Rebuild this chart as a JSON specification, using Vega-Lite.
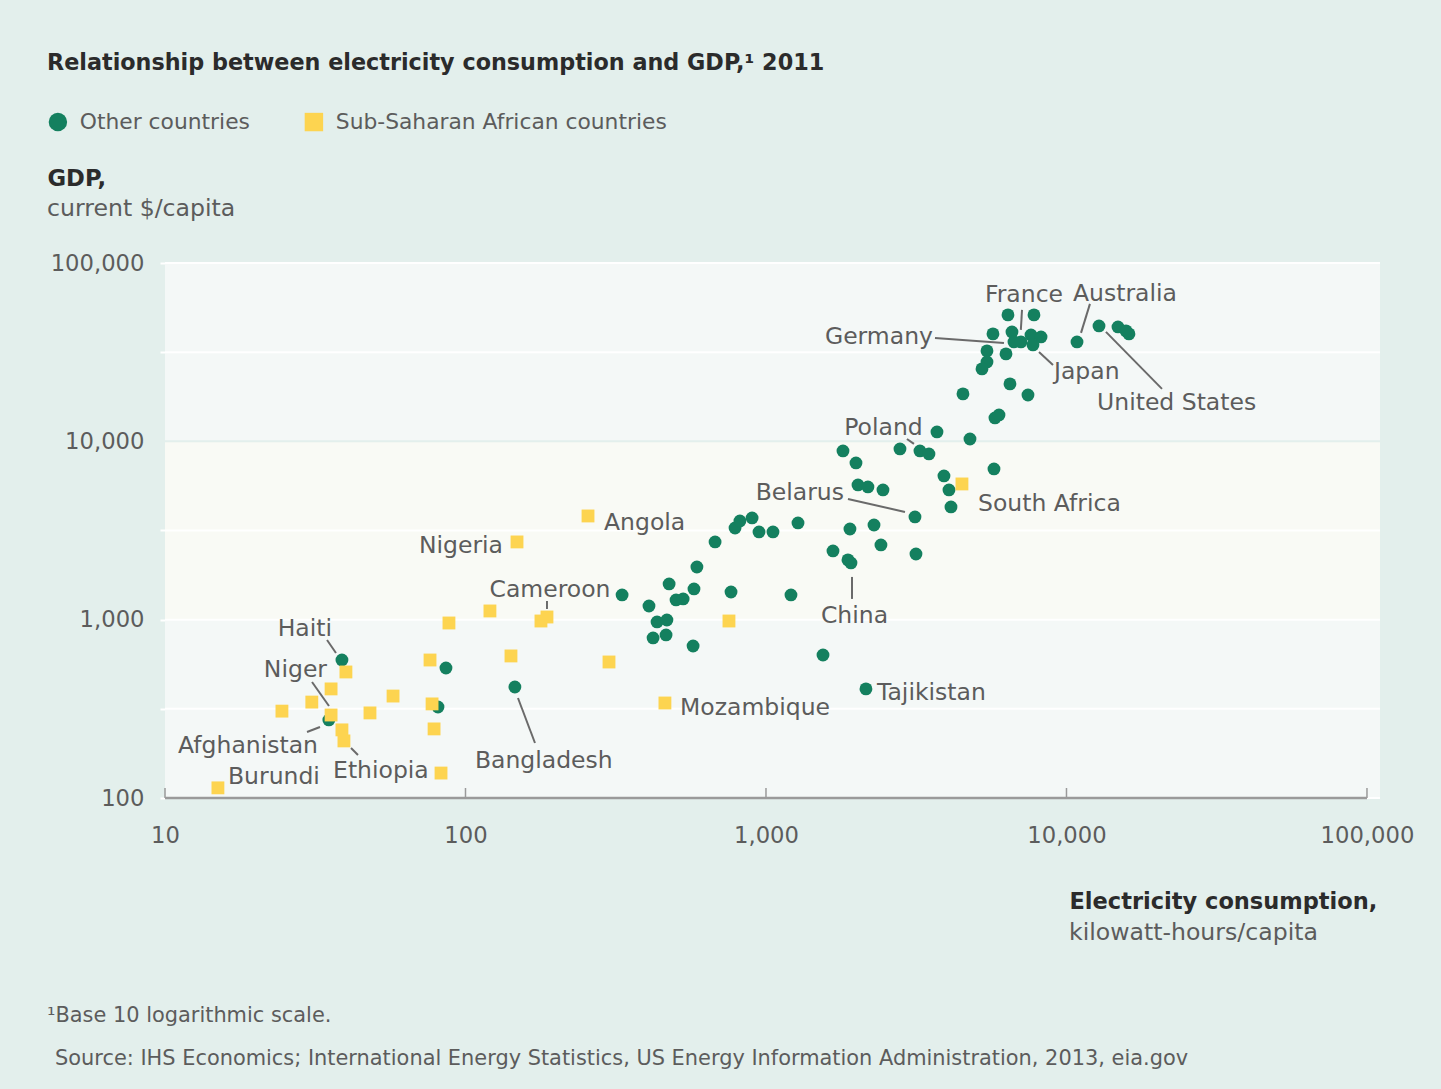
{
  "$schema": "https://vega.github.io/schema/vega-lite/v6.json",
  "width": 1215,
  "height": 535,
  "autosize": {"type": "none"},
  "padding": {"left": 165, "top": 263, "right": 61, "bottom": 291},
  "background": "#e3efec",
  "config": {"view": {"stroke": null}, "font": "DejaVu Sans"},
  "title": {
    "text": "Relationship between electricity consumption and GDP,¹ 2011",
    "anchor": "start",
    "font": "DejaVu Sans",
    "fontSize": 22.3,
    "fontWeight": "bold",
    "color": "#2b2b2b",
    "baseline": "alphabetic",
    "offset": 19
  },
  "datasets": {
    "bands": [
      {"lo": 100, "hi": 1000},
      {"lo": 1000, "hi": 10000},
      {"lo": 10000, "hi": 100000}
    ],
    "grid": [
      {"v": 100}, {"v": 316.23}, {"v": 1000}, {"v": 3162.3}, {"v": 10000}, {"v": 31623}, {"v": 100000}
    ],
    "xticks": [{"v": 10}, {"v": 100}, {"v": 1000}, {"v": 10000}, {"v": 100000}],
    "points": [
      {"x": 38.8, "y": 594, "group": "Other countries"},
      {"x": 35.1, "y": 274, "group": "Other countries"},
      {"x": 86.1, "y": 536, "group": "Other countries"},
      {"x": 81.0, "y": 324, "group": "Other countries"},
      {"x": 146, "y": 419, "group": "Other countries"},
      {"x": 332, "y": 1376, "group": "Other countries"},
      {"x": 408, "y": 1193, "group": "Other countries"},
      {"x": 476, "y": 1586, "group": "Other countries"},
      {"x": 434, "y": 971, "group": "Other countries"},
      {"x": 468, "y": 996, "group": "Other countries"},
      {"x": 421, "y": 790, "group": "Other countries"},
      {"x": 465, "y": 821, "group": "Other countries"},
      {"x": 502, "y": 1290, "group": "Other countries"},
      {"x": 530, "y": 1307, "group": "Other countries"},
      {"x": 576, "y": 1487, "group": "Other countries"},
      {"x": 589, "y": 1975, "group": "Other countries"},
      {"x": 572, "y": 712, "group": "Other countries"},
      {"x": 677, "y": 2728, "group": "Other countries"},
      {"x": 765, "y": 1430, "group": "Other countries"},
      {"x": 789, "y": 3268, "group": "Other countries"},
      {"x": 819, "y": 3577, "group": "Other countries"},
      {"x": 899, "y": 3719, "group": "Other countries"},
      {"x": 948, "y": 3104, "group": "Other countries"},
      {"x": 1055, "y": 3104, "group": "Other countries"},
      {"x": 1278, "y": 3486, "group": "Other countries"},
      {"x": 1211, "y": 1376, "group": "Other countries"},
      {"x": 1548, "y": 634, "group": "Other countries"},
      {"x": 2151, "y": 409, "group": "Other countries"},
      {"x": 1804, "y": 8835, "group": "Other countries"},
      {"x": 1993, "y": 7566, "group": "Other countries"},
      {"x": 2024, "y": 5694, "group": "Other countries"},
      {"x": 2184, "y": 5550, "group": "Other countries"},
      {"x": 2451, "y": 5340, "group": "Other countries"},
      {"x": 3132, "y": 3767, "group": "Other countries"},
      {"x": 1903, "y": 3226, "group": "Other countries"},
      {"x": 2288, "y": 3397, "group": "Other countries"},
      {"x": 1671, "y": 2429, "group": "Other countries"},
      {"x": 1918, "y": 2080, "group": "Other countries"},
      {"x": 1874, "y": 2163, "group": "Other countries"},
      {"x": 2413, "y": 2624, "group": "Other countries"},
      {"x": 3156, "y": 2336, "group": "Other countries"},
      {"x": 2792, "y": 9066, "group": "Other countries"},
      {"x": 3254, "y": 8835, "group": "Other countries"},
      {"x": 3486, "y": 8499, "group": "Other countries"},
      {"x": 3707, "y": 11290, "group": "Other countries"},
      {"x": 4774, "y": 10310, "group": "Other countries"},
      {"x": 3911, "y": 6397, "group": "Other countries"},
      {"x": 4064, "y": 5340, "group": "Other countries"},
      {"x": 4127, "y": 4287, "group": "Other countries"},
      {"x": 5738, "y": 7003, "group": "Other countries"},
      {"x": 5781, "y": 13530, "group": "Other countries"},
      {"x": 5962, "y": 14060, "group": "Other countries"},
      {"x": 4524, "y": 18450, "group": "Other countries"},
      {"x": 6486, "y": 20990, "group": "Other countries"},
      {"x": 7445, "y": 18200, "group": "Other countries"},
      {"x": 6387, "y": 51160, "group": "Other countries"},
      {"x": 7795, "y": 51160, "group": "Other countries"},
      {"x": 5693, "y": 40030, "group": "Other countries"},
      {"x": 6586, "y": 41070, "group": "Other countries"},
      {"x": 6688, "y": 36090, "group": "Other countries"},
      {"x": 7056, "y": 36090, "group": "Other countries"},
      {"x": 7618, "y": 39510, "group": "Other countries"},
      {"x": 8228, "y": 38500, "group": "Other countries"},
      {"x": 7736, "y": 34720, "group": "Other countries"},
      {"x": 5438, "y": 32140, "group": "Other countries"},
      {"x": 6291, "y": 30920, "group": "Other countries"},
      {"x": 5438, "y": 27880, "group": "Other countries"},
      {"x": 5234, "y": 25480, "group": "Other countries"},
      {"x": 10840, "y": 36090, "group": "Other countries"},
      {"x": 12830, "y": 44380, "group": "Other countries"},
      {"x": 14840, "y": 43810, "group": "Other countries"},
      {"x": 16140, "y": 40030, "group": "Other countries"},
      {"x": 15780, "y": 41610, "group": "Other countries"},
      {"x": 15.0, "y": 114, "group": "Sub-Saharan African countries"},
      {"x": 24.5, "y": 307, "group": "Sub-Saharan African countries"},
      {"x": 30.8, "y": 345, "group": "Sub-Saharan African countries"},
      {"x": 35.7, "y": 409, "group": "Sub-Saharan African countries"},
      {"x": 40.0, "y": 509, "group": "Sub-Saharan African countries"},
      {"x": 35.7, "y": 292, "group": "Sub-Saharan African countries"},
      {"x": 38.8, "y": 241, "group": "Sub-Saharan African countries"},
      {"x": 39.4, "y": 209, "group": "Sub-Saharan African countries"},
      {"x": 48.1, "y": 300, "group": "Sub-Saharan African countries"},
      {"x": 57.4, "y": 373, "group": "Sub-Saharan African countries"},
      {"x": 76.2, "y": 594, "group": "Sub-Saharan African countries"},
      {"x": 77.4, "y": 337, "group": "Sub-Saharan African countries"},
      {"x": 78.6, "y": 244, "group": "Sub-Saharan African countries"},
      {"x": 82.9, "y": 138, "group": "Sub-Saharan African countries"},
      {"x": 88.1, "y": 958, "group": "Sub-Saharan African countries"},
      {"x": 120.6, "y": 1119, "group": "Sub-Saharan African countries"},
      {"x": 148.4, "y": 2728, "group": "Sub-Saharan African countries"},
      {"x": 178.3, "y": 983, "group": "Sub-Saharan African countries"},
      {"x": 186.7, "y": 1035, "group": "Sub-Saharan African countries"},
      {"x": 141.7, "y": 626, "group": "Sub-Saharan African countries"},
      {"x": 255.7, "y": 3815, "group": "Sub-Saharan African countries"},
      {"x": 300.3, "y": 579, "group": "Sub-Saharan African countries"},
      {"x": 461, "y": 341, "group": "Sub-Saharan African countries"},
      {"x": 753, "y": 983, "group": "Sub-Saharan African countries"},
      {"x": 4489, "y": 5768, "group": "Sub-Saharan African countries"}
    ],
    "labelsLeft": [
      {"name": "Australia", "x": 10510, "y": 61310},
      {"name": "Japan", "x": 9087, "y": 22390},
      {"name": "United States", "x": 12640, "y": 15000},
      {"name": "South Africa", "x": 5076, "y": 4070},
      {"name": "Tajikistan", "x": 2341, "y": 354.3},
      {"name": "Mozambique", "x": 517.4, "y": 292.1},
      {"name": "Bangladesh", "x": 107.5, "y": 147.3},
      {"name": "Angola", "x": 289.0, "y": 3185},
      {"name": "Ethiopia", "x": 36.24, "y": 129.5},
      {"name": "Burundi", "x": 16.2, "y": 119.8}
    ],
    "labelsRight": [
      {"name": "Germany", "x": 3595, "y": 35180},
      {"name": "Nigeria", "x": 133.3, "y": 2366},
      {"name": "Afghanistan", "x": 32.3, "y": 178.8},
      {"name": "Niger", "x": 34.61, "y": 477.1},
      {"name": "Haiti", "x": 35.95, "y": 810.3},
      {"name": "Belarus", "x": 1818, "y": 4691}
    ],
    "labelsCenter": [
      {"name": "France", "x": 7220, "y": 60520},
      {"name": "Poland", "x": 2460, "y": 10860},
      {"name": "China", "x": 1970, "y": 958.3},
      {"name": "Cameroon", "x": 191.1, "y": 1341}
    ],
    "leaders": [
      {"name": "France", "x": 7112, "y": 54580, "x2": 7050, "y2": 42150},
      {"name": "Australia", "x": 11970, "y": 58970, "x2": 11180, "y2": 40550},
      {"name": "Germany", "x": 3651, "y": 38020, "x2": 6194, "y2": 35630},
      {"name": "Japan", "x": 8100, "y": 31720, "x2": 9019, "y2": 26830},
      {"name": "United States", "x": 13530, "y": 41070, "x2": 20790, "y2": 19680},
      {"name": "Poland", "x": 2945, "y": 10310, "x2": 3108, "y2": 9670},
      {"name": "Belarus", "x": 1874, "y": 4753, "x2": 2901, "y2": 4018},
      {"name": "China", "x": 1933, "y": 1736, "x2": 1933, "y2": 1307},
      {"name": "Cameroon", "x": 186.7, "y": 1273, "x2": 186.7, "y2": 1148},
      {"name": "Bangladesh", "x": 149.5, "y": 363.8, "x2": 170.3, "y2": 203.4},
      {"name": "Haiti", "x": 34.61, "y": 769.5, "x2": 37.07, "y2": 650.6},
      {"name": "Niger", "x": 30.85, "y": 447.3, "x2": 35.13, "y2": 328.1},
      {"name": "Afghanistan", "x": 29.69, "y": 234.6, "x2": 32.79, "y2": 250.2},
      {"name": "Ethiopia", "x": 41.59, "y": 190.8, "x2": 43.88, "y2": 174.3}
    ],
    "axisNotes": [
      {"text": "current $/capita", "x": 4.05, "y": 183800},
      {"text": "kilowatt-hours/capita", "x": 10193, "y": 15.98}
    ],
    "footnotes": [
      {"text": "¹Base 10 logarithmic scale.", "x": 4.05, "y": 5.54},
      {"text": "Source: IHS Economics; International Energy Statistics, US Energy Information Administration, 2013, eia.gov", "x": 4.305, "y": 3.18}
    ]
  },
  "layer": [
    {
      "data": {"name": "bands"},
      "mark": {"type": "rect"},
      "encoding": {
        "y": {"field": "lo", "type": "quantitative", "scale": {"type": "log", "domain": [100, 100000], "nice": false}},
        "y2": {"field": "hi"},
        "color": {"condition": {"test": "datum.lo == 1000", "value": "#f9faf5"}, "value": "#f4f8f7"}
      }
    },
    {
      "data": {"name": "grid"},
      "mark": {"type": "rule", "strokeWidth": 2},
      "encoding": {
        "y": {
          "field": "v", "type": "quantitative",
          "scale": {"type": "log", "domain": [100, 100000], "nice": false},
          "axis": {
            "values": [100, 316.23, 1000, 3162.3, 10000, 31623, 100000],
            "grid": false, "domain": false, "ticks": true, "tickSize": 5, "tickWidth": 2,
            "tickColor": {"condition": {"test": "datum.value == 10000", "value": "transparent"}, "value": "#ffffff"},
            "labelExpr": "(datum.value == 100 || datum.value == 1000 || datum.value == 10000 || datum.value == 100000) ? format(datum.value, ',') : ''",
            "labelOverlap": false,
            "labelFont": "DejaVu Sans", "labelFontSize": 22.7, "labelColor": "#5c5c5c", "labelPadding": 16,
            "title": "GDP,", "titleFont": "DejaVu Sans", "titleFontSize": 22.7, "titleFontWeight": "bold", "titleColor": "#2b2b2b",
            "titleAngle": 0, "titleAlign": "left", "titleBaseline": "alphabetic", "titleX": -118, "titleY": -78
          }
        },
        "color": {"condition": {"test": "datum.v == 10000", "value": "#e3efec"}, "value": "#ffffff"}
      }
    },
    {
      "data": {"values": [{}]},
      "mark": {"type": "rule", "color": "#9a9a9a", "strokeWidth": 2.5},
      "encoding": {
        "x": {"datum": 10, "type": "quantitative", "scale": {"type": "log", "domain": [10, 110500], "nice": false}},
        "x2": {"datum": 100000},
        "y": {"datum": 100, "type": "quantitative", "scale": {"type": "log", "domain": [100, 100000], "nice": false}}
      }
    },
    {
      "data": {"name": "xticks"},
      "mark": {"type": "tick", "orient": "vertical", "size": 10, "thickness": 1.5, "yOffset": -5, "color": "#9a9a9a", "opacity": 1},
      "encoding": {
        "x": {
          "field": "v", "type": "quantitative",
          "scale": {"type": "log", "domain": [10, 110500], "nice": false},
          "axis": {
            "values": [10, 100, 1000, 10000, 100000],
            "grid": false, "domain": false, "ticks": false,
            "labelExpr": "format(datum.value, ',')",
            "labelOverlap": false, "labelFlush": false,
            "labelFont": "DejaVu Sans", "labelFontSize": 22.7, "labelColor": "#5c5c5c", "labelPadding": 26,
            "title": "Electricity consumption,", "titleFont": "DejaVu Sans", "titleFontSize": 22.5, "titleFontWeight": "bold", "titleColor": "#2b2b2b",
            "titleAlign": "left", "titleBaseline": "alphabetic", "titleX": 904, "titleY": 110
          }
        },
        "y": {"datum": 100, "type": "quantitative", "scale": {"type": "log", "domain": [100, 100000], "nice": false}}
      }
    },
    {
      "data": {"name": "leaders"},
      "mark": {"type": "rule", "color": "#6a6a6a", "strokeWidth": 2},
      "encoding": {
        "x": {"field": "x", "type": "quantitative", "scale": {"type": "log", "domain": [10, 110500], "nice": false}},
        "x2": {"field": "x2"},
        "y": {"field": "y", "type": "quantitative", "scale": {"type": "log", "domain": [100, 100000], "nice": false}},
        "y2": {"field": "y2"}
      }
    },
    {
      "data": {"name": "points"},
      "mark": {"type": "point", "filled": true, "size": 165, "opacity": 1},
      "encoding": {
        "x": {"field": "x", "type": "quantitative", "scale": {"type": "log", "domain": [10, 110500], "nice": false}},
        "y": {"field": "y", "type": "quantitative", "scale": {"type": "log", "domain": [100, 100000], "nice": false}},
        "color": {
          "field": "group", "type": "nominal",
          "scale": {"domain": ["Other countries", "Sub-Saharan African countries"], "range": ["#14805f", "#fdd450"]},
          "legend": {"orient": "none", "legendX": -118, "legendY": -152, "direction": "horizontal", "title": null, "padding": 0,
            "labelFont": "DejaVu Sans", "labelFontSize": 21.8, "labelColor": "#5c5c5c", "labelOffset": 11, "labelLimit": 0, "columnPadding": 53,
            "symbolSize": 340, "symbolStrokeWidth": 0}
        },
        "shape": {
          "field": "group", "type": "nominal",
          "scale": {"domain": ["Other countries", "Sub-Saharan African countries"], "range": ["circle", "square"]},
          "legend": {"orient": "none", "legendX": -118, "legendY": -152, "direction": "horizontal", "title": null, "padding": 0,
            "labelFont": "DejaVu Sans", "labelFontSize": 21.8, "labelColor": "#5c5c5c", "labelOffset": 11, "labelLimit": 0, "columnPadding": 53,
            "symbolSize": 340, "symbolStrokeWidth": 0}
        }
      }
    },
    {
      "data": {"name": "labelsLeft"},
      "mark": {"type": "text", "align": "left", "baseline": "alphabetic", "font": "DejaVu Sans", "fontSize": 23.5, "color": "#5c5c5c"},
      "encoding": {
        "x": {"field": "x", "type": "quantitative", "scale": {"type": "log", "domain": [10, 110500], "nice": false}},
        "y": {"field": "y", "type": "quantitative", "scale": {"type": "log", "domain": [100, 100000], "nice": false}},
        "text": {"field": "name"}
      }
    },
    {
      "data": {"name": "labelsRight"},
      "mark": {"type": "text", "align": "right", "baseline": "alphabetic", "font": "DejaVu Sans", "fontSize": 23.5, "color": "#5c5c5c"},
      "encoding": {
        "x": {"field": "x", "type": "quantitative", "scale": {"type": "log", "domain": [10, 110500], "nice": false}},
        "y": {"field": "y", "type": "quantitative", "scale": {"type": "log", "domain": [100, 100000], "nice": false}},
        "text": {"field": "name"}
      }
    },
    {
      "data": {"name": "labelsCenter"},
      "mark": {"type": "text", "align": "center", "baseline": "alphabetic", "font": "DejaVu Sans", "fontSize": 23.5, "color": "#5c5c5c"},
      "encoding": {
        "x": {"field": "x", "type": "quantitative", "scale": {"type": "log", "domain": [10, 110500], "nice": false}},
        "y": {"field": "y", "type": "quantitative", "scale": {"type": "log", "domain": [100, 100000], "nice": false}},
        "text": {"field": "name"}
      }
    },
    {
      "data": {"name": "axisNotes"},
      "mark": {"type": "text", "align": "left", "baseline": "alphabetic", "font": "DejaVu Sans", "fontSize": 23.6, "color": "#5c5c5c"},
      "encoding": {
        "x": {"field": "x", "type": "quantitative", "scale": {"type": "log", "domain": [10, 110500], "nice": false}},
        "y": {"field": "y", "type": "quantitative", "scale": {"type": "log", "domain": [100, 100000], "nice": false}},
        "text": {"field": "text"}
      }
    },
    {
      "data": {"name": "footnotes"},
      "mark": {"type": "text", "align": "left", "baseline": "alphabetic", "font": "DejaVu Sans", "fontSize": 20.9, "color": "#5c5c5c"},
      "encoding": {
        "x": {"field": "x", "type": "quantitative", "scale": {"type": "log", "domain": [10, 110500], "nice": false}},
        "y": {"field": "y", "type": "quantitative", "scale": {"type": "log", "domain": [100, 100000], "nice": false}},
        "text": {"field": "text"}
      }
    }
  ]
}
